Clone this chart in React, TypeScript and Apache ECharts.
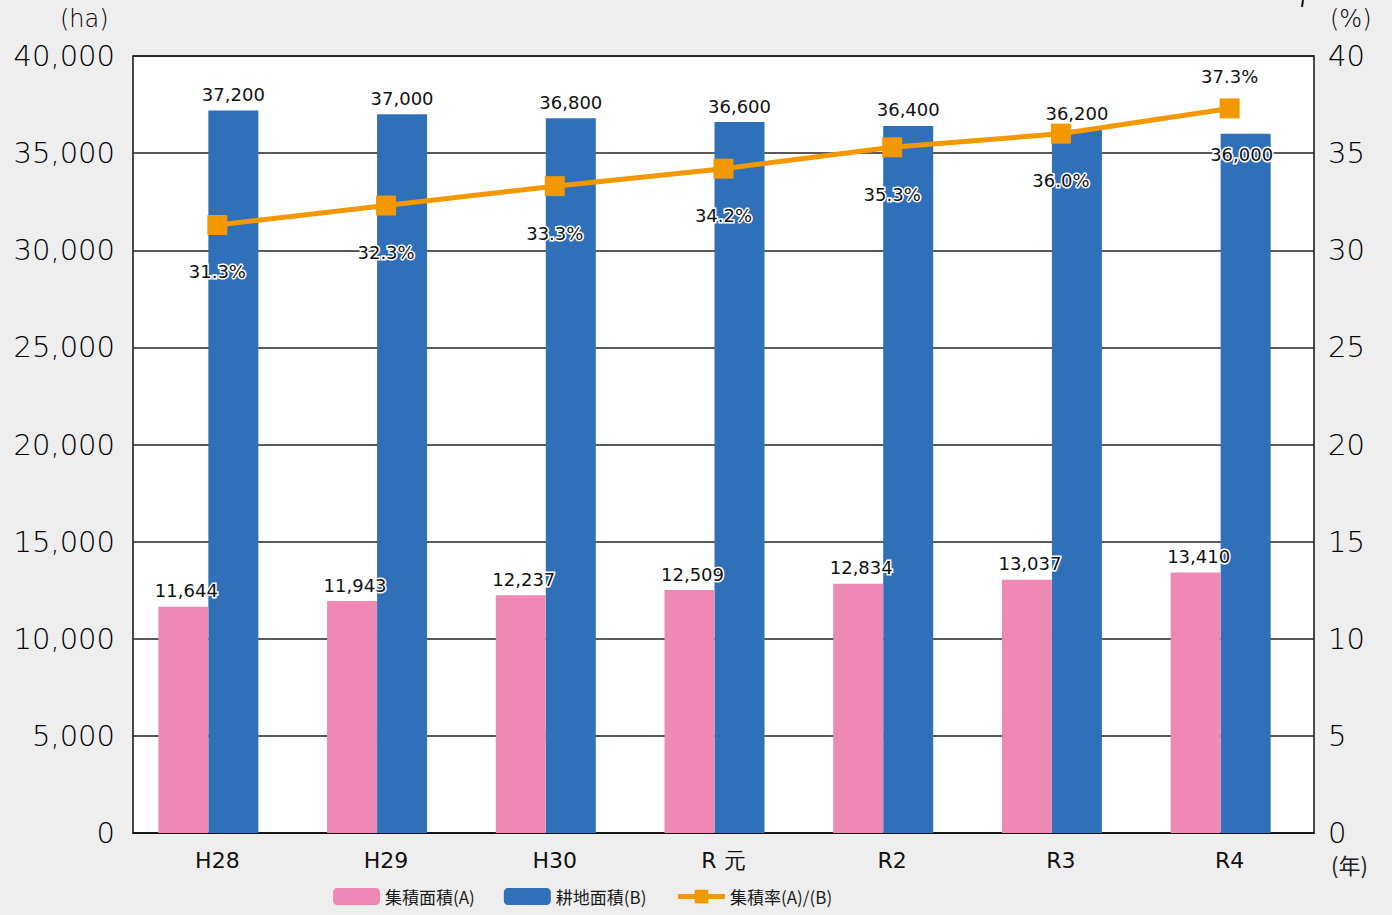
import React, { useEffect, useRef } from "react";
import * as echarts from "echarts";

const categories = ["H28", "H29", "H30", "R 元", "R2", "R3", "R4"];
const aggregatedArea = [11644, 11943, 12237, 12509, 12834, 13037, 13410];
const farmlandArea = [37200, 37000, 36800, 36600, 36400, 36200, 36000];
const aggregationRate = [31.3, 32.3, 33.3, 34.2, 35.3, 36.0, 37.3];
const leftTicks = { min: 0, max: 40000, interval: 5000 };
const rightTicks = { min: 0, max: 40, interval: 5 };

const PINK = "#ee89b5";
const BLUE = "#3070b8";
const ORANGE = "#f39800";
const TXT = "#1a1a1a";
const NUM_FONT = "DejaVu Sans";
const JP_FONT = "Noto Sans CJK JP";

export default function App() {
  const ref = useRef<HTMLDivElement>(null);
  useEffect(() => {
    if (!ref.current) return;
    const chart = echarts.init(ref.current, null, { renderer: "svg" });
    const fmt = (v: number) => v.toLocaleString("en-US");
    const lblBase = {
      show: true,
      color: "#111",
      fontFamily: NUM_FONT,
      fontSize: 18,
      textBorderColor: "#fff",
      textBorderWidth: 3,
    };
    const last = aggregationRate.length - 1;
    chart.setOption({
      animation: false,
      backgroundColor: "#eeeeee",
      grid: {
        left: 133,
        right: 78,
        top: 56,
        bottom: 82,
        show: true,
        backgroundColor: "#ffffff",
        borderColor: "#111",
        borderWidth: 1.5,
      },
      legend: {
        left: 328,
        top: 883,
        itemWidth: 47,
        itemHeight: 17,
        itemGap: 29,
        data: [
          { name: "集積面積(A)" },
          { name: "耕地面積(B)" },
          { name: "集積率(A)/(B)", lineStyle: { width: 5 }, itemStyle: { color: ORANGE } },
        ],
        textStyle: { fontFamily: JP_FONT, fontSize: 17, color: TXT },
      },
      graphic: [
        {
          type: "text",
          left: 60,
          top: 7,
          style: { text: "(ha)", fontFamily: NUM_FONT, fontWeight: 300, fontSize: 24, fill: "#000" },
        },
        {
          type: "text",
          left: 1330,
          top: 7,
          style: { text: "(%)", fontFamily: NUM_FONT, fontWeight: 300, fontSize: 24, fill: "#000" },
        },
        {
          type: "text",
          left: 1331,
          top: 853,
          style: { text: "(年)", fontFamily: JP_FONT, fontSize: 22, lineHeight: 22, fill: "#222" },
        },
        {
          type: "line",
          shape: { x1: 1303, y1: 0, x2: 1302, y2: 7 },
          style: { stroke: TXT, lineWidth: 2 },
        },
      ],
      xAxis: {
        type: "category",
        data: categories,
        axisLine: { show: true, lineStyle: { color: "#111", width: 1.5 } },
        axisTick: { show: false },
        axisLabel: {
          margin: 16,
          fontFamily: NUM_FONT,
          fontSize: 22,
          color: "#111",
          formatter: (v: string) => v,
        },
      },
      yAxis: [
        {
          type: "value",
          min: leftTicks.min,
          max: leftTicks.max,
          interval: leftTicks.interval,
          axisLine: { show: false },
          axisTick: { show: false },
          splitLine: { show: true, lineStyle: { color: "#222", width: 1.5 } },
          axisLabel: {
            margin: 18,
            fontFamily: NUM_FONT,
            fontWeight: 300,
            fontSize: 29,
            lineHeight: 24,
            color: "#000",
            formatter: (v: number) => fmt(v),
          },
        },
        {
          type: "value",
          min: rightTicks.min,
          max: rightTicks.max,
          interval: rightTicks.interval,
          axisLine: { show: false },
          axisTick: { show: false },
          splitLine: { show: false },
          axisLabel: {
            margin: 14,
            fontFamily: NUM_FONT,
            fontWeight: 300,
            fontSize: 29,
            lineHeight: 24,
            color: "#000",
          },
        },
      ],
      series: [
        {
          name: "集積面積(A)",
          type: "bar",
          barWidth: 50,
          barGap: "0%",
          data: aggregatedArea,
          itemStyle: { color: PINK },
          label: {
            ...lblBase,
            position: "top",
            distance: 7,
            offset: [3, 0],
            formatter: (p: any) => fmt(p.value),
          },
          z: 3,
        },
        {
          name: "耕地面積(B)",
          type: "bar",
          barWidth: 50,
          barGap: "0%",
          data: farmlandArea.map((v, i) =>
            i === farmlandArea.length - 1
              ? { value: v, label: { position: "insideTop", distance: 12, offset: [-4, 0] } }
              : v
          ),
          itemStyle: { color: BLUE },
          label: {
            ...lblBase,
            position: "top",
            distance: 7,
            formatter: (p: any) => fmt(p.value),
          },
          z: 2,
        },
        {
          name: "",
          type: "bar",
          barWidth: 18,
          barGap: "0%",
          silent: true,
          data: categories.map(() => 0),
          itemStyle: { color: "rgba(0,0,0,0)" },
          label: { show: false },
        },
        {
          name: "集積率(A)/(B)",
          type: "line",
          yAxisIndex: 1,
          data: aggregationRate.map((v, i) =>
            i === last ? { value: v, label: { position: "top", distance: 13 } } : v
          ),
          symbol: "rect",
          symbolSize: 20,
          itemStyle: { color: ORANGE },
          lineStyle: { color: ORANGE, width: 5 },
          label: {
            ...lblBase,
            position: "bottom",
            distance: 28,
            formatter: (p: any) => Number(p.value).toFixed(1) + "%",
          },
          z: 5,
        },
      ],
    });
    return () => chart.dispose();
  }, []);
  return (
    <div
      ref={ref}
      style={{ position: "fixed", left: 0, top: 0, width: 1392, height: 915 }}
    />
  );
}
